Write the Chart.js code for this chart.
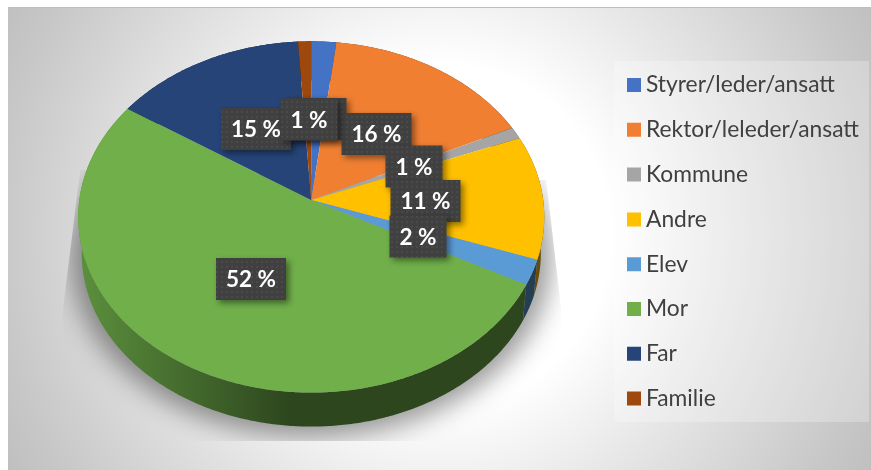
<!DOCTYPE html>
<html>
<head>
<meta charset="utf-8">
<title>Pie</title>
<script src="https://cdn.jsdelivr.net/npm/chart.js@4"></script>
<style>
    html, body { margin: 0; padding: 0; background: #fff; overflow: hidden; }
    canvas { display: block; }
</style>
</head>
<body>
<canvas id="grafico" width="871" height="470"></canvas>
<script>
'use strict';

const categorias = ['Styrer/leder/ansatt', 'Rektor/leleder/ansatt', 'Kommune', 'Andre', 'Elev', 'Mor', 'Far', 'Familie'];
const valores = [1.9, 16, 1.1, 11.4, 2.3, 51.6, 14.7, 1];
const cores = ['#4472C4', '#F07F32', '#A5A5A5', '#FFC000', '#5B9BD5', '#70AF4A', '#264478', '#9E480E'];

// centro de cada etiqueta, na ordem das categorias
const etiquetasX = [318, 376.5, 414, 425.5, 418, 251, 256, 309];
const etiquetasY = [119, 134, 166.5, 201, 236.5, 279, 129, 119.5];

const PERSPETIVA = 0.0966; // a frente da tarte fica maior que o fundo
const ESCALA_X = 1.333;
const ALTURA = 36.9;
const ESCALA_BASE = 0.985;

function projetar(arco, angulo, base)
{
    const u = Math.cos(angulo), v = Math.sin(angulo);
    const w = 1 - PERSPETIVA * v;
    const r = arco.outerRadius;
    const s = base ? ESCALA_BASE : 1;
    return {
        x: arco.x + r * ESCALA_X * u / w * s,
        y: arco.y + r * v / w * s + (base ? ALTURA : 0)
    };
}

function escurecer(cor, f)
{
    const n = parseInt(cor.slice(1), 16);
    return `rgb(${(n >> 16 & 255) * f}, ${(n >> 8 & 255) * f}, ${(n & 255) * f})`;
}

function amostras(arco)
{
    const lista = [];
    const passos = Math.max(2, Math.ceil((arco.endAngle - arco.startAngle) / 0.01));
    for(let i = 0; i <= passos; i++)
    {
        lista.push(arco.startAngle + (arco.endAngle - arco.startAngle) * i / passos);
    }
    return lista;
}

function desenharSombra(ctx, arco)
{
    ctx.save();
    ctx.beginPath();
    ctx.moveTo(arco.x - 231, arco.y - 30);
    ctx.lineTo(arco.x - 249, arco.y + 115);
    ctx.lineTo(arco.x - 249, arco.y + 241);
    ctx.lineTo(arco.x + 250, arco.y + 241);
    ctx.lineTo(arco.x + 250, arco.y + 110);
    ctx.lineTo(arco.x + 235, arco.y - 20);
    ctx.closePath();
    ctx.clip();
    ctx.filter = 'blur(13px)';
    ctx.fillStyle = 'rgba(0, 0, 0, 0.4)';
    ctx.beginPath();
    ctx.ellipse(arco.x, arco.y + 57, arco.outerRadius * ESCALA_X + 8, arco.outerRadius + 6, 0, 0, Math.PI * 2);
    ctx.fill();
    ctx.restore();
}

function desenharLado(ctx, arco, cor)
{
    const gradiente = ctx.createLinearGradient(arco.x - 233, 0, arco.x - 20, 0);
    gradiente.addColorStop(0, escurecer(cor, 0.82));
    gradiente.addColorStop(1, escurecer(cor, 0.4));
    const angulos = amostras(arco);
    ctx.beginPath();
    angulos.forEach(function(a, i){
        const p = projetar(arco, a, false);
        if(i === 0) ctx.moveTo(p.x, p.y); else ctx.lineTo(p.x, p.y);
    });
    angulos.reverse().forEach(function(a){
        const p = projetar(arco, a, true);
        ctx.lineTo(p.x, p.y);
    });
    ctx.closePath();
    ctx.fillStyle = gradiente;
    ctx.fill();
}

function desenharTopo(ctx, arco, cor)
{
    ctx.beginPath();
    ctx.moveTo(arco.x, arco.y);
    amostras(arco).forEach(function(a){
        const p = projetar(arco, a, false);
        ctx.lineTo(p.x, p.y);
    });
    ctx.closePath();
    ctx.fillStyle = cor;
    ctx.fill();
}

function padraoPontos(ctx)
{
    const tela = document.createElement('canvas');
    tela.width = 10;
    tela.height = 10;
    const c = tela.getContext('2d');
    c.fillStyle = '#404040';
    c.fillRect(0, 0, 10, 10);
    c.fillStyle = '#4e4e4e';
    [[2, 2], [7, 2], [2, 7], [7, 7]].forEach(function(p){
        c.beginPath();
        c.arc(p[0], p[1], 1, 0, Math.PI * 2);
        c.fill();
    });
    return ctx.createPattern(tela, 'repeat');
}

function desenharEtiquetas(ctx)
{
    const padrao = padraoPontos(ctx);
    ctx.font = 'bold 22.5px Lato';
    ctx.textAlign = 'center';
    ctx.textBaseline = 'middle';
    valores.forEach(function(valor, i){
        const texto = `${Math.round(valor)} %`;
        const largura = Math.round(ctx.measureText(texto).width) + 20;
        const x = etiquetasX[i] - largura / 2, y = etiquetasY[i] - 21;
        ctx.save();
        ctx.shadowColor = 'rgba(0, 0, 0, 0.45)';
        ctx.shadowBlur = 6;
        ctx.shadowOffsetX = 3;
        ctx.shadowOffsetY = 3;
        ctx.fillStyle = padrao;
        ctx.fillRect(x, y, largura, 42);
        ctx.restore();
        ctx.fillStyle = '#ffffff';
        ctx.fillText(texto, etiquetasX[i], etiquetasY[i] + 1);
    });
}

const tarte3d = {
    id: 'tarte3d',
    beforeDraw: function(chart){
        const ctx = chart.ctx;
        ctx.save();
        const fundo = ctx.createRadialGradient(440, 235, 0, 440, 235, 500);
        fundo.addColorStop(0, '#ffffff');
        fundo.addColorStop(0.34, '#ffffff');
        fundo.addColorStop(0.56, '#e8e8e8');
        fundo.addColorStop(0.88, '#c8c8c8');
        fundo.addColorStop(1, '#bebebe');
        ctx.fillStyle = fundo;
        ctx.fillRect(8, 7, 863, 463);
        ctx.fillStyle = '#bdbdbd';
        ctx.fillRect(8, 7, 863, 1);
        ctx.fillStyle = 'rgba(255, 255, 255, 0.25)';
        ctx.fillRect(614, 61, 255, 361);
        ctx.restore();
    },
    afterLayout: function(chart){
        // a legenda fica sobre o painel, independente da área do gráfico
        const legenda = chart.legend;
        const largura = legenda.width, altura = legenda.height;
        legenda.left = 611.4;
        legenda.right = legenda.left + largura;
        legenda.top = 51.6;
        legenda.bottom = legenda.top + altura;
    },
    beforeDatasetDraw: function(chart, args){
        const ctx = chart.ctx;
        const arcos = chart.getDatasetMeta(args.index).data;
        ctx.save();
        desenharSombra(ctx, arcos[0]);
        // lados de trás para a frente
        const ordem = arcos.map(function(a, i){ return i; }).sort(function(a, b){
            return Math.sin((arcos[a].startAngle + arcos[a].endAngle) / 2) - Math.sin((arcos[b].startAngle + arcos[b].endAngle) / 2);
        });
        ordem.forEach(function(i){ desenharLado(ctx, arcos[i], cores[i]); });
        arcos.forEach(function(arco, i){ desenharTopo(ctx, arco, cores[i]); });
        desenharEtiquetas(ctx);
        ctx.restore();
        return false;
    }
};

new Chart(document.getElementById('grafico'), {
    type: 'pie',
    data: {
        labels: categorias,
        datasets: [{
            data: valores,
            backgroundColor: cores,
            borderWidth: 0,
            radius: 174
        }]
    },
    options: {
        responsive: false,
        animation: false,
        layout: {
            padding: { left: 9, right: 0, top: 0, bottom: 70 }
        },
        plugins: {
            tooltip: { enabled: false },
            legend: {
                position: 'right',
                align: 'start',
                labels: {
                    // caixa pequena + traço grosso: o texto fica só a 5px do quadrado
                    boxWidth: 1.2,
                    boxHeight: 1.2,
                    padding: 22,
                    color: '#404040',
                    font: { family: 'Lato', size: 22.8 },
                    generateLabels: function(chart){
                        return categorias.map(function(nome, i){
                            return {
                                text: nome,
                                fillStyle: cores[i],
                                strokeStyle: cores[i],
                                lineWidth: 12.8,
                                fontColor: '#404040',
                                hidden: false,
                                index: i
                            };
                        });
                    }
                }
            }
        }
    },
    plugins: [tarte3d]
});
</script>
</body>
</html>
